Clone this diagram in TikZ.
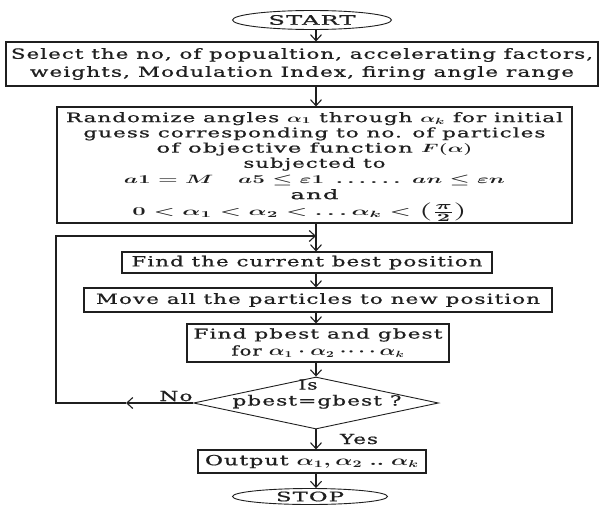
\documentclass[tikz,border=0pt]{standalone}
\usepackage{fontspec}
\usepackage{graphicx}
\usepackage{amsmath}
\setmainfont{DejaVu Serif}[LetterSpace=5,FakeBold=0.7]
\usetikzlibrary{arrows.meta,shapes.geometric,calc}
\newcommand\fw[2]{\resizebox{#1pt}{\height}{#2}}
\definecolor{ink}{gray}{0.12}
\begin{document}
\begin{tikzpicture}[x=1pt,y=-1pt,
  every node/.style={text=ink},
  box/.style={draw=ink, line width=1.1pt, inner sep=0pt, align=center,
    font=\fontsize{14}{15}\selectfont\boldmath},
  term/.style={draw=ink, line width=0.9pt, ellipse, inner sep=0pt,
    font=\fontsize{13}{15}\selectfont},
  dia/.style={draw=ink, line width=0.9pt, diamond, inner sep=0pt},
  lbl/.style={inner sep=0pt, align=center, font=\fontsize{14}{16}\selectfont},
  arr/.style={draw=ink, line width=1.1pt, -{Straight Barb[length=6pt,width=11pt,line width=1.1pt]}},
  ln/.style={draw=ink, line width=1.1pt}]
\useasboundingbox (0,0) rectangle (601,506);
\coordinate (axis) at (316,0);
\coordinate (loopx) at (56,0);
\coordinate (nox) at (126,0);
\coordinate (join) at (316,236);

\node[term, minimum width=159, minimum height=19] (start) at (312,20) {\fw{87}{START}};

\node[box, minimum width=592, minimum height=44, font=\fontsize{14}{18}\selectfont] (b1) at (302,64)
  {\fw{582}{Select the no, of popualtion, accelerating factors,}\\
   \fw{544}{weights, Modulation Index, firing angle range}};

\node[box, minimum width=515, minimum height=116, font=\fontsize{13.2}{15.2}\selectfont\boldmath] (b2) at (314.5,165)
  {\fw{497}{Randomize angles $\alpha_1$ through $\alpha_k$ for initial}\\
   \fw{462}{guess corresponding to no. of particles}\\
   \fw{316}{of objective function $F(\alpha)$}\\
   \fw{142}{subjected to}\hspace*{58pt}\\[1pt]
   \fw{381}{$a1 = M \quad a5 \le \varepsilon 1 \;\ldots\ldots\; an \le \varepsilon n$}\hspace*{28pt}\\
   \fw{48}{and}\hspace*{84pt}\\[1.5pt]
   \fw{336}{$0 < \alpha_1 < \alpha_2 < \ldots\alpha_k < \smash{\scalebox{1.25}{$\left(\frac{\pi}{2}\right)$}}$}\hspace*{28pt}};

\node[box, minimum width=370, minimum height=21] (b3) at (307,262.5)
  {\fw{351}{Find the current best position}};

\node[box, minimum width=468, minimum height=24] (b4) at (318,300)
  {\fw{444}{Move all the particles to new position}};

\node[box, minimum width=262, minimum height=38, font=\fontsize{13.5}{17}\selectfont\boldmath] (b5) at (318,343)
  {\fw{249}{Find pbest and gbest}\\
   \fw{173}{for $\alpha_1\cdot\alpha_2\cdot\!\cdots\alpha_k$}};

\node[dia, minimum width=245, minimum height=52] (dec) at (316,403) {};
\node[lbl] (dect) at (317,394)
  {\fw{19}{Is}\hspace*{18pt}\\ \fw{169}{pbest=gbest ?}};

\node[box, minimum width=228, minimum height=23] (out) at (312,461.5)
  {\fw{214}{Output $\alpha_1,\alpha_2 \;..\; \alpha_k$}};

\node[term, minimum width=155, minimum height=16] (stop) at (310,496.5) {\fw{68}{STOP}};

\node[lbl] (no) at (176,396) {\fw{33}{No}};
\node[lbl] (yes) at (359,439) {\fw{38}{Yes}};

\draw[arr] (start.south -| axis) -- (b1.north -| axis);
\draw[arr] (b1.south -| axis) -- (b2.north -| axis);
\draw[arr] (b2.south -| axis) -- (b3.north -| axis);
\draw[arr] (b3.south -| axis) -- (b4.north -| axis);
\draw[arr] (b4.south -| axis) -- (b5.north -| axis);
\draw[arr] (b5.south -| axis) -- (dec.north -| axis);
\draw[arr] (dec.south -| axis) -- (out.north -| axis);
\draw[arr] (out.south -| axis) -- (stop.north -| axis);

\draw[arr] (dec.west) -- (nox |- dec.west);
\draw[arr] (nox |- dec.west) -- (loopx |- dec.west) |- (join);
\end{tikzpicture}
\end{document}
